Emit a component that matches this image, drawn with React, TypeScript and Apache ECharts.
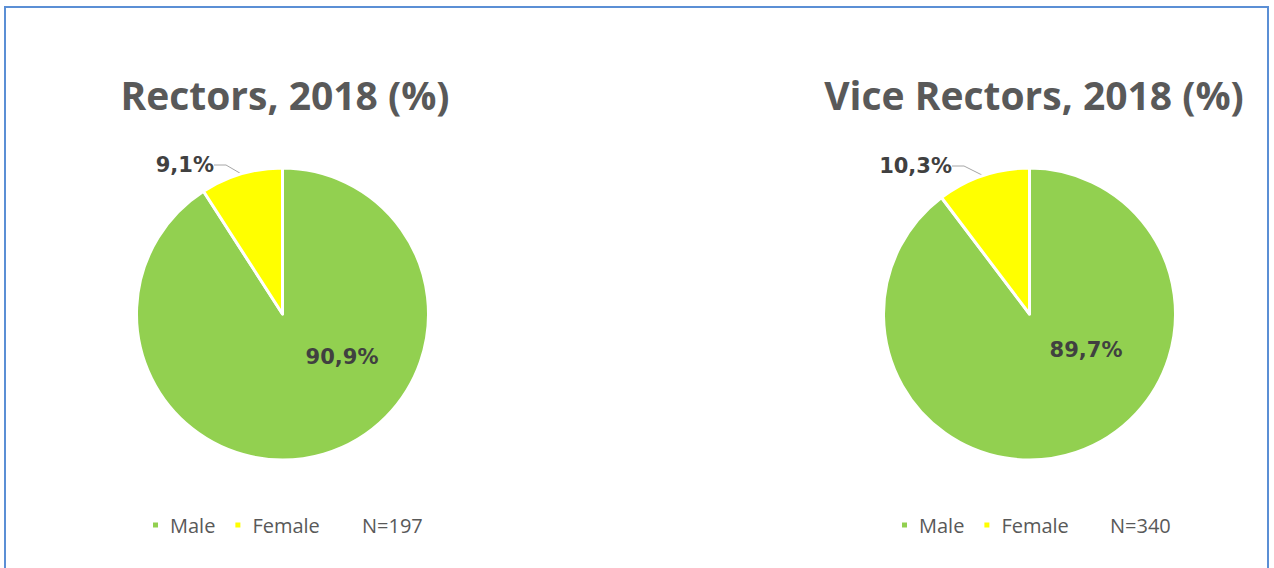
import React, { useEffect, useRef } from "react";
import * as echarts from "echarts";

const categories = ["Male", "Female"];
const rectorsValues = [90.9, 9.1];
const viceRectorsValues = [89.7, 10.3];
const titles = ["Rectors, 2018 (%)", "Vice Rectors, 2018 (%)"];
const sampleSizes = ["N=197", "N=340"];
const colors = ["#92d050", "#ffff00"];

const fmt = (v: number) => v.toFixed(1).replace(".", ",") + "%";

export default function App() {
  const ref = useRef<HTMLDivElement>(null);
  useEffect(() => {
    if (!ref.current) return;
    const chart = echarts.init(ref.current, null, { renderer: "svg" });
    const centers = [282.5, 1029.5];
    const labelPos = [
      [{ x: 342, y: 357 }, { x: 214, y: 165 }],
      [{ x: 1086, y: 350 }, { x: 952, y: 166 }],
    ];
    const mkSeries = (values: number[], idx: number) => ({
      type: "pie",
      name: titles[idx],
      center: [centers[idx], 314],
      radius: 146,
      startAngle: 90,
      clockwise: true,
      silent: true,
      itemStyle: { borderColor: "#ffffff", borderWidth: 3 },
      label: {
        show: true,
        formatter: (p: any) => fmt(p.value),
        color: "#404040",
        fontWeight: "bold",
        fontSize: 21,
        fontFamily: "'DejaVu Sans', sans-serif",
      },
      labelLine: { show: true, lineStyle: { color: "#a6a6a6", width: 1 }, length: 10, length2: 12 },
      labelLayout: (p: any) => {
        const pos = labelPos[idx][p.dataIndex];
        return {
          x: pos.x,
          y: pos.y,
          align: p.dataIndex === 0 ? "center" : "right",
          verticalAlign: "middle",
        };
      },
      data: categories.map((c, i) => ({
        name: c,
        value: values[i],
        itemStyle: { color: colors[i] },
        label: { position: i === 0 ? "inside" : "outside" },
        labelLine: { show: i !== 0 },
      })),
    });
    const legendBase = {
      data: categories,
      icon: "rect",
      itemWidth: 7,
      itemHeight: 7,
      itemGap: 18,
      top: 510,
      selectedMode: false,
      textStyle: {
        color: "#595959",
        fontSize: 20,
        fontFamily: "'Open Sans', sans-serif",
        padding: [0, 0, 0, 6],
      },
    };
    const titleStyle = {
      color: "#595959",
      fontSize: 39,
      fontWeight: "bold",
      fontFamily: "'Open Sans', sans-serif",
    };
    chart.setOption({
      animation: false,
      title: [
        { text: titles[0], left: 280, top: 70, textAlign: "center", textStyle: titleStyle },
        { text: titles[1], left: 1029, top: 70, textAlign: "center", textStyle: titleStyle },
      ],
      legend: [
        { ...legendBase, left: 146 },
        { ...legendBase, left: 895 },
      ],
      graphic: [
        {
          type: "rect",
          shape: { x: 5, y: 7, width: 1263, height: 580 },
          style: { fill: "none", stroke: "#5b8fd5", lineWidth: 2 },
          silent: true,
        },
        {
          type: "text",
          x: 362,
          y: 525,
          style: { text: sampleSizes[0], fill: "#595959", fontSize: 20, fontFamily: "'Open Sans', sans-serif", verticalAlign: "middle" },
        },
        {
          type: "text",
          x: 1110,
          y: 525,
          style: { text: sampleSizes[1], fill: "#595959", fontSize: 20, fontFamily: "'Open Sans', sans-serif", verticalAlign: "middle" },
        },
      ],
      series: [mkSeries(rectorsValues, 0), mkSeries(viceRectorsValues, 1)],
    });
    return () => chart.dispose();
  }, []);
  return (
    <div
      ref={ref}
      style={{ position: "fixed", left: 0, top: 0, width: 1274, height: 568, background: "#ffffff" }}
    />
  );
}
